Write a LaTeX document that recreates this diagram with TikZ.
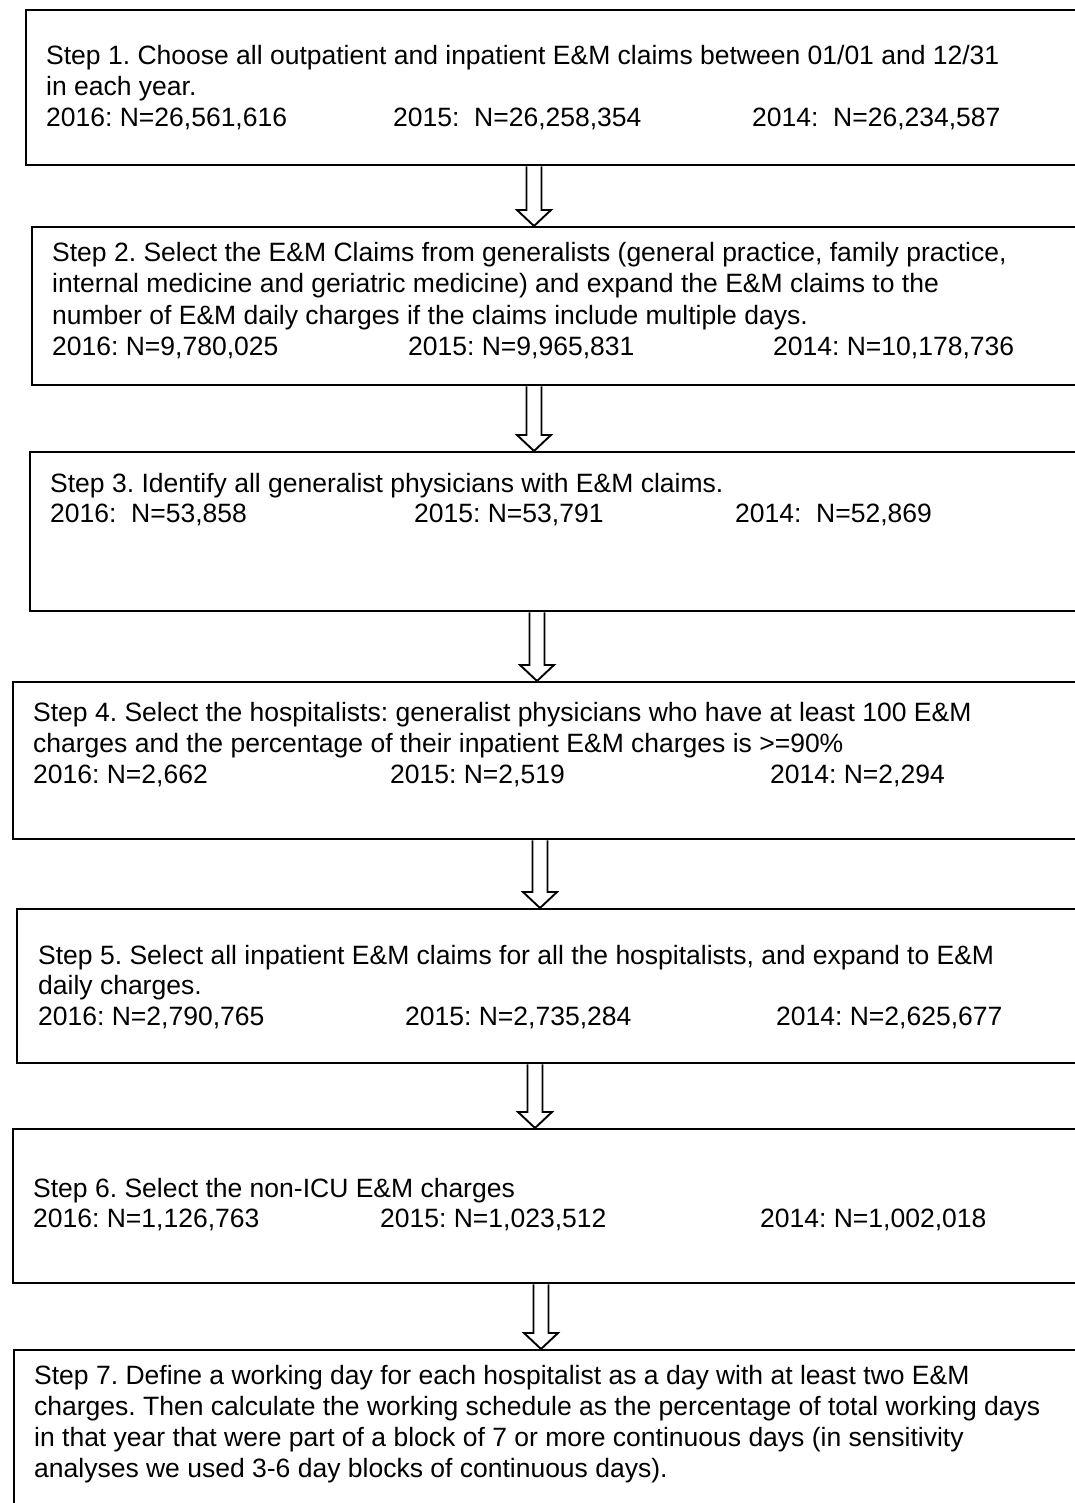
\documentclass[tikz,border=0pt]{standalone}
\usepackage{fontspec}
\setmainfont{Liberation Sans}
\usetikzlibrary{calc}
\frenchspacing
\tikzset{
  stepbox/.style={draw=black, line width=2.4pt, rectangle, inner sep=0pt, anchor=north west, minimum width=#1},
  stepbox/.default=1100pt,
  txt/.style={anchor=base west, inner sep=0pt, font=\fontsize{26.5}{31}\selectfont},
  flowarrow/.style={draw=black, line width=1.9pt, line join=miter}
}
\newcommand\hollowarrow[3]{%
  \draw[flowarrow] let \p1=(#2.south), \p2=(#3.north) in
    ({#1pt-7.5pt},\y1) -- ({#1pt-7.5pt},{\y2+16pt}) -- ({#1pt-17pt},{\y2+16pt})
    -- (#1pt,\y2) -- ({#1pt+17pt},{\y2+16pt}) -- ({#1pt+7.5pt},{\y2+16pt})
    -- ({#1pt+7.5pt},\y1);}
\begin{document}
\frenchspacing
\begin{tikzpicture}[x=1pt,y=-1pt]
\clip (0,0) rectangle (1075,1503);
\fill[white] (0,0) rectangle (1075,1503);
% boxes
\node[stepbox=1100pt, minimum height=155pt] (b1) at (25,9) {};
\node[stepbox=1100pt, minimum height=158pt] (b2) at (31,226) {};
\node[stepbox=1100pt, minimum height=159pt] (b3) at (29,451) {};
\node[stepbox=1100pt, minimum height=157pt] (b4) at (12,681) {};
\node[stepbox=1100pt, minimum height=154pt] (b5) at (16,908) {};
\node[stepbox=1100pt, minimum height=154pt] (b6) at (12,1128) {};
\node[stepbox=1100pt, minimum height=200pt] (b7) at (13,1349) {};
% texts box 1
\node[txt] (t1a) at (46,65) {Step 1. Choose all outpatient and inpatient E\&M claims between 01/01 and 12/31};
\node[txt] (t1b) at (46,96) {in each year.};
\node[txt] (t1c) at (46,127) {2016: N=26,561,616};
\node[txt] (t1d) at (393,127) {2015:\ \ N=26,258,354};
\node[txt] (t1e) at (752,127) {2014:\ \ N=26,234,587};
% box 2
\node[txt] (t2a) at (52,262) {Step 2. Select the E\&M Claims from generalists (general practice, family practice,};
\node[txt] (t2b) at (52,293) {internal medicine and geriatric medicine) and expand the E\&M claims to the};
\node[txt] (t2c) at (52,324) {number of E\&M daily charges if the claims include multiple days.};
\node[txt] (t2d) at (52,355) {2016: N=9,780,025};
\node[txt] (t2e) at (408,355) {2015: N=9,965,831};
\node[txt] (t2f) at (773,355) {2014: N=10,178,736};
% box 3
\node[txt] (t3a) at (50,492) {Step 3. Identify all generalist physicians with E\&M claims.};
\node[txt] (t3b) at (50,522) {2016:\ \ N=53,858};
\node[txt] (t3c) at (414,522) {2015: N=53,791};
\node[txt] (t3d) at (735,522) {2014:\ \ N=52,869};
% box 4
\node[txt] (t4a) at (33,721) {Step 4. Select the hospitalists: generalist physicians who have at least 100 E\&M};
\node[txt] (t4b) at (33,752) {charges and the percentage of their inpatient E\&M charges is >=90\%};
\node[txt] (t4c) at (33,783) {2016: N=2,662};
\node[txt] (t4d) at (390,783) {2015: N=2,519};
\node[txt] (t4e) at (770,783) {2014: N=2,294};
% box 5
\node[txt] (t5a) at (38,964) {Step 5. Select all inpatient E\&M claims for all the hospitalists, and expand to E\&M};
\node[txt] (t5b) at (38,994) {daily charges.};
\node[txt] (t5c) at (38,1025) {2016: N=2,790,765};
\node[txt] (t5d) at (405,1025) {2015: N=2,735,284};
\node[txt] (t5e) at (776,1025) {2014: N=2,625,677};
% box 6
\node[txt] (t6a) at (33,1197) {Step 6. Select the non-ICU E\&M charges};
\node[txt] (t6b) at (33,1227) {2016: N=1,126,763};
\node[txt] (t6c) at (380,1227) {2015: N=1,023,512};
\node[txt] (t6d) at (760,1227) {2014: N=1,002,018};
% box 7
\node[txt] (t7a) at (34,1384) {Step 7. Define a working day for each hospitalist as a day with at least two E\&M};
\node[txt] (t7b) at (34,1415) {charges. Then calculate the working schedule as the percentage of total working days};
\node[txt] (t7c) at (34,1446) {in that year that were part of a block of 7 or more continuous days (in sensitivity};
\node[txt] (t7d) at (34,1477) {analyses we used 3-6 day blocks of continuous days).};
% arrows
\hollowarrow{534}{b1}{b2}
\hollowarrow{534}{b2}{b3}
\hollowarrow{537}{b3}{b4}
\hollowarrow{540}{b4}{b5}
\hollowarrow{535}{b5}{b6}
\hollowarrow{541}{b6}{b7}
\end{tikzpicture}
\end{document}
